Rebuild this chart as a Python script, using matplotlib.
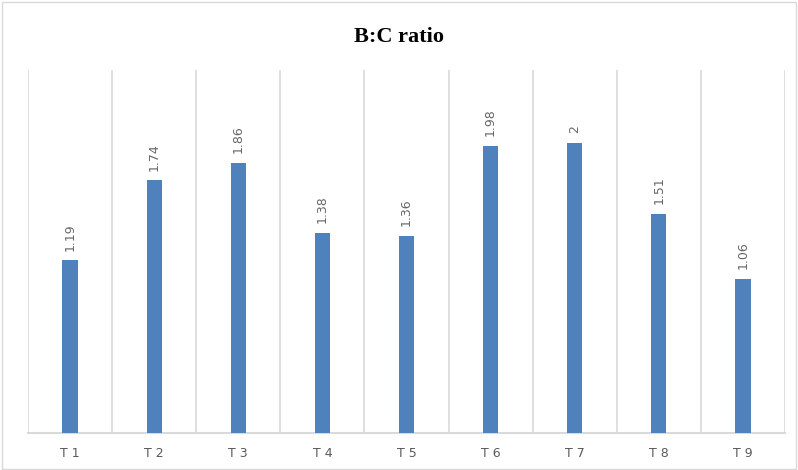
import numpy as np
import matplotlib.pyplot as plt
from matplotlib.patches import Rectangle

categories = ['T1', 'T2', 'T3', 'T4', 'T5', 'T6', 'T7', 'T8', 'T9']
ratios = [1.19, 1.74, 1.86, 1.38, 1.36, 1.98, 2, 1.51, 1.06]
value_labels = ['1.19', '1.74', '1.86', '1.38', '1.36', '1.98', '2', '1.51', '1.06']

fig = plt.figure(figsize=(7.98, 4.70), dpi=100)
ax = fig.add_axes([0.0351, 0.0787, 0.9486, 0.7723])

x = np.arange(len(categories))
ax.bar(x, ratios, width=0.18, color='#4F81BD', zorder=3)

for xi, v, lab in zip(x, ratios, value_labels):
    ax.annotate(lab, (xi, v), xytext=(0, 7), textcoords='offset points',
                rotation=90, ha='center', va='bottom', fontsize=9,
                color='#666666', fontfamily='DejaVu Sans')

ax.set_xlim(-0.5, len(categories) - 0.5)
ax.set_ylim(0, 2.5)
ax.set_xticks(x)
ax.set_xticklabels([' '.join(c) for c in categories], fontsize=9, color='#595959')
ax.tick_params(axis='x', length=0, pad=10)
ax.set_yticks([])

# category separators
for b in np.arange(-0.5, len(categories), 1.0):
    ax.axvline(b, color='#d9d9d9', lw=1.2, zorder=1)

for s in ['top', 'left', 'right']:
    ax.spines[s].set_visible(False)
ax.spines['bottom'].set_color('#d9d9d9')
ax.spines['bottom'].set_linewidth(1.5)

fig.text(0.5, 0.921, 'B:C ratio', ha='center', va='center', fontsize=16,
         fontweight='bold', fontfamily='Liberation Serif', color='black')

fig.patches.append(Rectangle((0.002, 0.003), 0.995, 0.993, transform=fig.transFigure,
                             fill=False, edgecolor='#d9d9d9', lw=1))

fig.savefig('out.png', dpi=100)
